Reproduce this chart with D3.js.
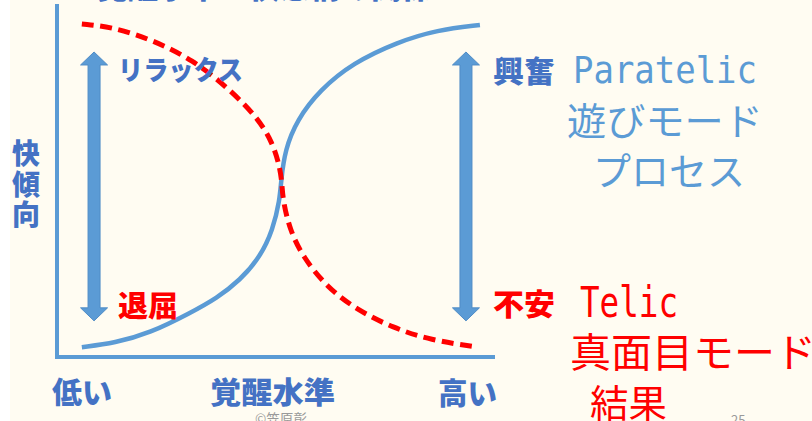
<!DOCTYPE html>
<html>
<head>
<meta charset="utf-8">
<script src="https://cdn.jsdelivr.net/npm/d3@7"></script>
<style>
  html, body { margin: 0; padding: 0; background: #fffcf2; }
  svg { display: block; }
</style>
</head>
<body>
<svg id="chart" width="812" height="421"></svg>
<script>
// Arousal level (0 = low, 100 = high) against hedonic tone (0 = unpleasant, 100 = pleasant)
const telicCurve = [
  [5.7, 94.9], [12.8, 94.0], [22.0, 90.3], [31.2, 84.6], [39.0, 76.9],
  [45.9, 68.4], [49.5, 61.0], [51.1, 54.1], [51.6, 49.5], [51.8, 44.7],
  [53.4, 36.2], [56.4, 28.5], [61.9, 19.9], [68.8, 13.4], [77.1, 8.3],
  [85.6, 4.8], [96.6, 2.8]
];
const paratelicCurve = [
  [5.7, 2.8], [13.3, 4.0], [21.3, 6.8], [30.5, 12.5], [36.7, 16.8],
  [42.0, 21.9], [46.6, 28.5], [49.5, 36.2], [51.1, 44.7], [51.4, 50.4],
  [52.3, 59.0], [55.0, 67.5], [60.3, 76.1], [67.9, 83.8], [78.0, 89.7],
  [87.2, 93.2], [97.0, 94.6]
];
// Range arrows: arousal position, hedonic span
const arrowX = [8.5, 93.8];
const arrowSpan = [10.3, 86.9];

const axisLabels = ["低い", "覚醒水準", "高い"];
const yAxisLabel = ["快", "傾", "向"];
const lowStates = ["リラックス", "退屈"];
const highStates = ["興奮", "不安"];
const paratelicText = ["Paratelic", "遊びモード", "プロセス"];
const telicText = ["Telic", "真面目モード", "結果"];
const titleText = "覚醒水準と快感情の関係";
const footer = ["©笠原彰", "25"];

const BLUE = "#5b9bd5", DARK_BLUE = "#4472c4", RED = "#ff0000";
const JP = "'Noto Sans CJK JP', 'Noto Sans', sans-serif";
const MONO = "'DejaVu Sans Mono', monospace";

const svg = d3.select("#chart");
const x = d3.scaleLinear().domain([0, 100]).range([57, 493]);
const y = d3.scaleLinear().domain([0, 100]).range([357, 6]);

svg.append("rect").attr("width", 812).attr("height", 421).attr("fill", "#fffcf2");
svg.append("rect").attr("width", 10).attr("height", 421).attr("fill", "#ffffff");

const line = d3.line().x(d => x(d[0])).y(d => y(d[1]));

// axes as an L-shaped frame
svg.append("path")
  .attr("d", line([[0, 100], [0, 0], [100, 0]]))
  .attr("fill", "none").attr("stroke", BLUE).attr("stroke-width", 4)
  .attr("stroke-linecap", "square");

// smoothed curves through the sampled points
const smooth = d3.line().x(d => x(d[0])).y(d => y(d[1])).curve(d3.curveBasis);

svg.append("path")
  .attr("d", smooth(paratelicCurve))
  .attr("fill", "none").attr("stroke", BLUE).attr("stroke-width", 4.5);

svg.append("path")
  .attr("d", smooth(telicCurve))
  .attr("fill", "none").attr("stroke", RED).attr("stroke-width", 5)
  .attr("stroke-dasharray", "12,6.5");

// double-headed arrows
const shaftHalf = 6, headHalf = 13.5, headLen = 13;
arrowX.forEach(ax => {
  const cx = x(ax), top = y(arrowSpan[1]), bot = y(arrowSpan[0]);
  const pts = [
    [cx, top], [cx + headHalf, top + headLen], [cx + shaftHalf, top + headLen],
    [cx + shaftHalf, bot - headLen], [cx + headHalf, bot - headLen], [cx, bot],
    [cx - headHalf, bot - headLen], [cx - shaftHalf, bot - headLen],
    [cx - shaftHalf, top + headLen], [cx - headHalf, top + headLen]
  ];
  svg.append("path")
    .attr("d", d3.line()(pts) + "Z")
    .attr("fill", BLUE).attr("stroke", "#4f8cc6").attr("stroke-width", 1);
});

function label(text, px, py, opt) {
  const t = svg.append("text")
    .attr("x", px).attr("y", py)
    .attr("font-family", opt.family || JP)
    .attr("font-size", opt.size)
    .attr("font-weight", opt.weight || 400)
    .attr("fill", opt.color)
    .text(text);
  if (opt.central) t.attr("dominant-baseline", "central");
  if (opt.len) t.attr("textLength", opt.len).attr("lengthAdjust", "spacingAndGlyphs");
  return t;
}

// title, mostly above the visible area
label(titleText, 97, -2, { size: 30, weight: 900, color: DARK_BLUE, len: 335 });

// state labels
label(lowStates[0], 118, 68.5, { size: 27, weight: 900, color: DARK_BLUE, central: true, len: 125 });
label(lowStates[1], 118, 303.5, { size: 29, weight: 900, color: RED, central: true, len: 60 });
label(highStates[0], 493, 69, { size: 30, weight: 900, color: DARK_BLUE, central: true, len: 62 });
label(highStates[1], 493, 302, { size: 30, weight: 900, color: RED, central: true, len: 62 });

// vertical y-axis label
yAxisLabel.forEach((c, i) => {
  label(c, 26, 152 + i * 30.5, { size: 28, weight: 900, color: DARK_BLUE, central: true })
    .attr("text-anchor", "middle");
});

// x-axis labels
label(axisLabels[0], 52, 390, { size: 30, weight: 900, color: DARK_BLUE, central: true, len: 60 });
label(axisLabels[1], 210, 390, { size: 30, weight: 900, color: DARK_BLUE, central: true, len: 125 });
label(axisLabels[2], 438, 391, { size: 30, weight: 900, color: DARK_BLUE, central: true, len: 59 });

// mode descriptions
label(paratelicText[0], 573, 83, { size: 38, color: BLUE, family: MONO, len: 184 });
label(paratelicText[1], 567, 118.5, { size: 38, color: BLUE, central: true, len: 196 });
label(paratelicText[2], 593, 168.5, { size: 38, color: BLUE, central: true, len: 152 });
label(telicText[0], 580, 317, { size: 42, color: RED, family: MONO, len: 98 });
label(telicText[1], 570, 350, { size: 40, color: RED, central: true, len: 246 });
label(telicText[2], 590, 400, { size: 38, color: RED, central: true, len: 77 });

// footer
label(footer[0], 255, 424, { size: 14, color: "#9a9a9a", len: 52 });
label(footer[1], 731, 425, { size: 13, color: "#9a9a9a" });
</script>
</body>
</html>
